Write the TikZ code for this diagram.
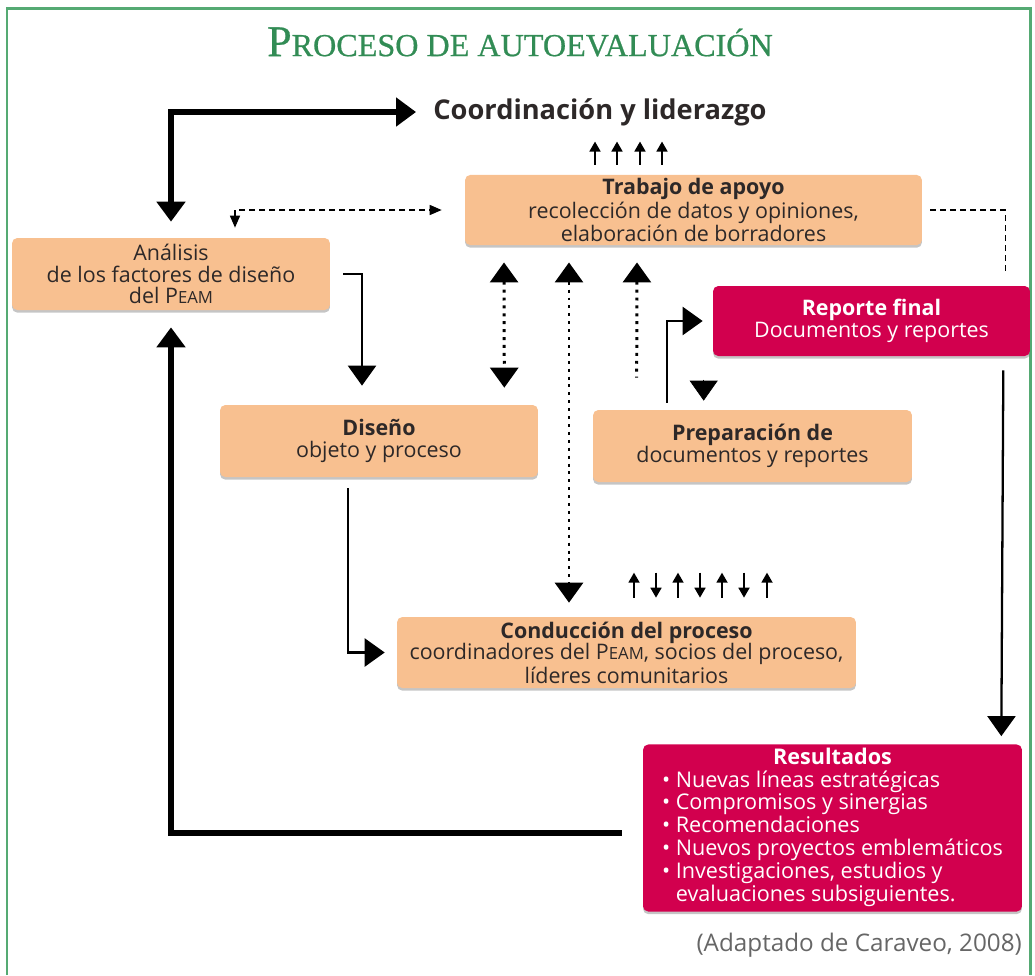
\documentclass[tikz,border=0pt]{standalone}
\usepackage{fontspec}
\setsansfont{Open Sans}
\newfontfamily\titlefont[FakeBold=0.6]{Liberation Serif}
\usetikzlibrary{arrows.meta,calc,shadows}

\definecolor{peach}{RGB}{248,192,144}
\definecolor{crimson}{RGB}{210,0,78}
\definecolor{framegreen}{RGB}{85,170,115}
\definecolor{titlegreen}{RGB}{50,140,85}
\definecolor{textgray}{RGB}{45,40,40}

\newcommand{\peamtxt}{P\scalebox{0.78}{EAM}}

\tikzset{
  box/.style={rectangle, rounded corners=3pt, fill=peach, text=textgray, align=center,
    font=\sffamily\fontsize{12.2}{12.2}\selectfont, inner sep=2pt,
    drop shadow={shadow xshift=0pt, shadow yshift=-1.5pt, fill=black!45, opacity=0.5}},
  redbox/.style={box, fill=crimson, text=white},
  titlestyle/.style={text=titlegreen, font=\titlefont},
  coordstyle/.style={inner sep=0pt, text=textgray, font=\sffamily\bfseries\fontsize{15.5}{17}\selectfont},
  thickline/.style={line width=3.4pt},
  thinline/.style={line width=1.3pt},
  dotline/.style={line width=1.7pt, dash pattern=on 1.7pt off 2.8pt},
  dashline/.style={line width=0.8pt, dash pattern=on 3.4pt off 2.3pt, >={Triangle[length=0.24cm,width=0.2cm]}},
  smallarrow/.style={line width=1pt, ->, >={Triangle[length=0.2cm,width=0.22cm]}}
}

\begin{document}
\begin{tikzpicture}[x=0.02cm, y=-0.02cm, >={Triangle[length=0.4cm,width=0.56cm]}]
\useasboundingbox (0,0) rectangle (1035,975);

% Frame
\draw[framegreen, line width=1.7pt] (7,975) -- (7,8) -- (1030,8) -- (1030,975);

% Title
\node[titlestyle] (title) at (520,42) {\fontsize{25}{27}\selectfont P\fontsize{18.3}{20}\selectfont ROCESO DE AUTOEVALUACIÓN};
\node[coordstyle] (coord) at (600,112) {Coordinación y liderazgo};

% Boxes
\node[box, minimum width=9.14cm, minimum height=1.4cm] (apoyo) at (693.5,210)
  {\textbf{Trabajo de apoyo}\\recolección de datos y opiniones,\\elaboración de borradores};
\node[box, minimum width=6.36cm, minimum height=1.44cm] (analisis) at (171,274)
  {Análisis\\de los factores de diseño\\del \peamtxt};
\node[redbox, minimum width=6.34cm, minimum height=1.4cm] (reporte) at (871.5,321)
  {\textbf{Reporte final}\\Documentos y reportes};
\node[box, minimum width=6.36cm, minimum height=1.44cm] (diseno) at (379,441)
  {\textbf{Diseño}\\objeto y proceso};
\node[box, minimum width=6.38cm, minimum height=1.44cm] (prep) at (752.5,446)
  {\textbf{Preparación de}\\documentos y reportes};
\node[box, minimum width=9.18cm, minimum height=1.42cm] (conduc) at (626.5,652.5)
  {\textbf{Conducción del proceso}\\coordinadores del \peamtxt, socios del proceso,\\líderes comunitarios};
\node[redbox, minimum width=7.58cm, minimum height=3.26cm, font=\sffamily\fontsize{12.3}{12.3}\selectfont] (result) at (832.5,828)
  {\begin{tabular}{@{}l@{}}
   \multicolumn{1}{@{}c@{}}{\bfseries Resultados}\\
   • Nuevas líneas estratégicas\\
   • Compromisos y sinergias\\
   • Recomendaciones\\
   • Nuevos proyectos emblemáticos\\
   • Investigaciones, estudios y\\
   \hphantom{• }evaluaciones subsiguientes.
   \end{tabular}};

% Source
\node[anchor=east, text=black!60, font=\sffamily\fontsize{13.8}{15}\selectfont] (fuente) at (1028,945) {(Adaptado de Caraveo, 2008)};

% Arrows
\draw[thickline, <->] ([yshift=0.32cm]analisis.north) |- ([xshift=-0.34cm]coord.west);
\foreach \dx in {-98.5,-76.5,-53.5,-31.5}
  \draw[smallarrow] ($(apoyo.north)+(\dx,-10)$) -- ($(apoyo.north)+(\dx,-33)$);
\draw[dashline, <->] ($(analisis.north)+(64,-10)$) |- ([xshift=-0.46cm]apoyo.west);
\draw[dashline] ([xshift=0.16cm]apoyo.east) -| ($(reporte.north east)+(-25,-11)$);
\draw[thinline, ->] ([xshift=0.26cm]analisis.east) -| ($(diseno.north)+(-17,-19)$);
\draw[dotline, <->] ($(apoyo.south)+(-189.5,17)$) -- ($(diseno.north east)+(-34,-17)$);
\draw[dotline, <->] ($(apoyo.south)+(-124.5,17)$) -- ($(conduc.north)+(-57.5,-14)$);
\draw[dotline, <-] ($(apoyo.south)+(-56.5,17)$) -- ($(prep.north west)+(44,-32)$);
\draw[thinline, ->] ($(prep.north west)+(74,-7)$) |- ([xshift=-0.2cm]reporte.west);
\draw[->] ($(prep.north west)+(111,-30)$) -- ($(prep.north west)+(111,-9)$);
\draw[thinline, ->] ($(diseno.south)+(-31,11)$) |- ([xshift=-0.24cm]conduc.west);
\foreach \dx in {7.5,51.5,95.5,140.5}
  \draw[smallarrow] ($(conduc.north)+(\dx,-19)$) -- ($(conduc.north)+(\dx,-44)$);
\foreach \dx in {29.5,73.5,117.5}
  \draw[smallarrow] ($(conduc.north)+(\dx,-44)$) -- ($(conduc.north)+(\dx,-19)$);
\draw[thinline, ->] ($(reporte.south east)+(-27,14)$) -- ($(result.north east)+(-21,-8)$);
\draw[thickline, ->] ([xshift=-0.42cm,yshift=-0.1cm]result.west) -| ([yshift=-0.34cm]analisis.south);
\end{tikzpicture}
\end{document}
